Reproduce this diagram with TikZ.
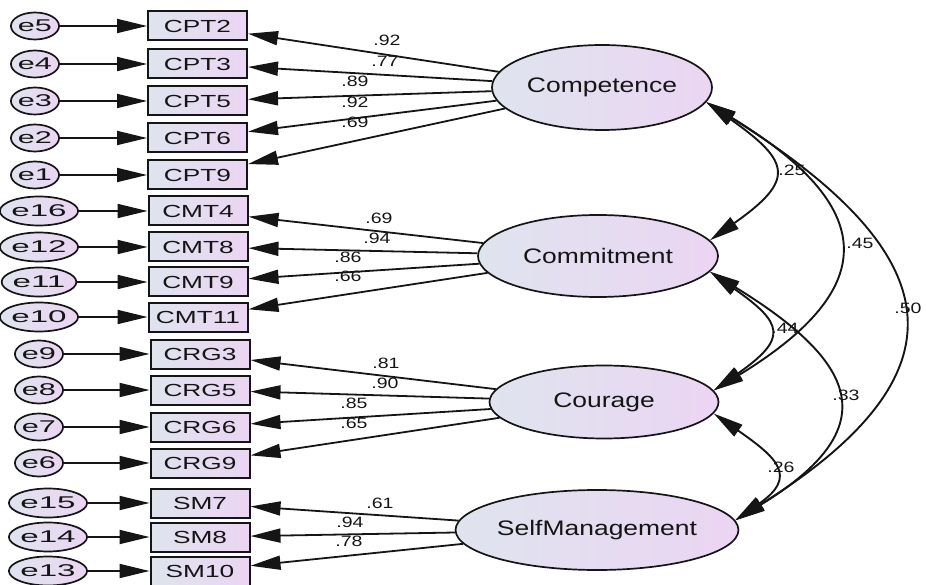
\documentclass[tikz,border=0pt]{standalone}
\usepackage{fontspec}
\usepackage{graphicx}
\setmainfont{Liberation Sans}
\usetikzlibrary{shapes.geometric,arrows.meta}

\definecolor{fillL}{HTML}{DFE4EE}
\definecolor{fillR}{HTML}{EBD5F3}
\definecolor{ink}{HTML}{151515}

% horizontally widened text
\newcommand{\wide}[2]{\scalebox{#1}[1]{#2}}

\tikzset{
  base/.style={draw=ink, text=ink, left color=fillL, right color=fillR, inner sep=0pt},
  latent/.style={base, ellipse, line width=1.7pt, font=\fontsize{21}{24}\selectfont},
  item/.style={base, rectangle, line width=2pt, minimum width=99pt, minimum height=29pt,
               font=\fontsize{17.5}{20}\selectfont},
  resid/.style={base, ellipse, line width=1.7pt, minimum width=45pt, minimum height=27pt,
                font=\fontsize{17}{19}\selectfont},
  coef/.style={text=ink, inner sep=0pt, font=\fontsize{15}{17}\selectfont},
  head/.tip={Triangle[length=30pt,width=14pt]},
  errpath/.style={draw=ink, line width=1.8pt, -head},
  loading/.style={draw=ink, line width=1.8pt, -head},
  covar/.style={draw=ink, line width=1.9pt, head-head},
}

\begin{document}
\begin{tikzpicture}[x=1pt, y=-1pt]
\useasboundingbox (0,0) rectangle (926,585);

% latent factors
\node[latent, minimum width=220pt, minimum height=85pt] (comp) at (602,87.5) {\wide{1.26}{Competence}};
\node[latent, minimum width=240pt, minimum height=82pt] (comm) at (598,256) {\wide{1.26}{Commitment}};
\node[latent, minimum width=229pt, minimum height=73pt] (cour) at (604,402) {\wide{1.26}{Courage}};
\node[latent, minimum width=233pt, minimum height=80pt] (self) at (597,530) {\wide{1.26}{SelfManagement}};

% observed items
\node[item] (cpt2) at (197.5,26) {\wide{1.5}{CPT2}};
\node[item] (cpt3) at (197.5,64) {\wide{1.5}{CPT3}};
\node[item] (cpt5) at (197.5,101) {\wide{1.5}{CPT5}};
\node[item] (cpt6) at (197.5,138) {\wide{1.5}{CPT6}};
\node[item] (cpt9) at (197.5,175) {\wide{1.5}{CPT9}};

\node[item] (cmt4) at (198,211) {\wide{1.5}{CMT4}};
\node[item] (cmt8) at (198,247) {\wide{1.5}{CMT8}};
\node[item] (cmt9) at (198,282) {\wide{1.5}{CMT9}};
\node[item] (cmt11) at (198,317) {\wide{1.5}{CMT11}};

\node[item] (crg3) at (200,354) {\wide{1.5}{CRG3}};
\node[item] (crg5) at (200,390) {\wide{1.5}{CRG5}};
\node[item] (crg6) at (200,427) {\wide{1.5}{CRG6}};
\node[item] (crg9) at (200,463) {\wide{1.5}{CRG9}};

\node[item] (sm7) at (200,503) {\wide{1.5}{SM7}};
\node[item] (sm8) at (200,537) {\wide{1.5}{SM8}};
\node[item] (sm10) at (200,571) {\wide{1.5}{SM10}};

% residuals
\node[resid] (e5) at (35,26) {\wide{1.8}{e5}};
\node[resid] (e4) at (35,64) {\wide{1.8}{e4}};
\node[resid] (e3) at (35,101) {\wide{1.8}{e3}};
\node[resid] (e2) at (35,138) {\wide{1.8}{e2}};
\node[resid] (e1) at (35,175) {\wide{1.8}{e1}};

\node[resid, minimum height=29pt] (e16) at (39,211) {\wide{1.95}{e16}};
\node[resid, minimum height=29pt] (e12) at (39,247) {\wide{1.95}{e12}};
\node[resid, minimum height=29pt] (e11) at (39,282) {\wide{1.95}{e11}};
\node[resid, minimum height=29pt] (e10) at (39,317) {\wide{1.95}{e10}};

\node[resid] (e9) at (39,354) {\wide{1.8}{e9}};
\node[resid] (e8) at (39,390) {\wide{1.8}{e8}};
\node[resid] (e7) at (39,427) {\wide{1.8}{e7}};
\node[resid] (e6) at (39,463) {\wide{1.8}{e6}};

\node[resid, minimum height=29pt] (e15) at (48,503) {\wide{1.95}{e15}};
\node[resid, minimum height=29pt] (e14) at (48,537) {\wide{1.95}{e14}};
\node[resid, minimum height=29pt] (e13) at (48,571) {\wide{1.95}{e13}};

% residual paths
\foreach \e/\v in {e5/cpt2,e4/cpt3,e3/cpt5,e2/cpt6,e1/cpt9,
                   e16/cmt4,e12/cmt8,e11/cmt9,e10/cmt11,
                   e9/crg3,e8/crg5,e7/crg6,e6/crg9,
                   e15/sm7,e14/sm8,e13/sm10}
  \draw[errpath] (\e) -- (\v);

% factor loadings
\foreach \v in {cpt2,cpt3,cpt5,cpt6,cpt9} \draw[loading] (comp) -- (\v);
\foreach \v in {cmt4,cmt8,cmt9,cmt11} \draw[loading] (comm) -- (\v);
\foreach \v in {crg3,crg5,crg6,crg9} \draw[loading] (cour) -- (\v);
\foreach \v in {sm7,sm8,sm10} \draw[loading] (self) -- (\v);

% loading estimates
\node[coef] (l1) at (387,40) {\wide{1.3}{.92}};
\node[coef] (l2) at (385,61) {\wide{1.3}{.77}};
\node[coef] (l3) at (355,81.5) {\wide{1.3}{.89}};
\node[coef] (l4) at (355,102.5) {\wide{1.3}{.92}};
\node[coef] (l5) at (355,122) {\wide{1.3}{.69}};

\node[coef] (l6) at (379,218) {\wide{1.3}{.69}};
\node[coef] (l7) at (377,238) {\wide{1.3}{.94}};
\node[coef] (l8) at (348,257) {\wide{1.3}{.86}};
\node[coef] (l9) at (348,276) {\wide{1.3}{.66}};

\node[coef] (l10) at (386,363) {\wide{1.3}{.81}};
\node[coef] (l11) at (385,383) {\wide{1.3}{.90}};
\node[coef] (l12) at (354,403) {\wide{1.3}{.85}};
\node[coef] (l13) at (354,423) {\wide{1.3}{.65}};

\node[coef] (l14) at (380,503) {\wide{1.3}{.61}};
\node[coef] (l15) at (350,522) {\wide{1.3}{.94}};
\node[coef] (l16) at (349,541) {\wide{1.3}{.78}};

% factor covariances
\draw[covar] (comp.-8) .. controls +(85,60) and +(85,-60) .. (comm.8);
\draw[covar] (comp.-8) .. controls +(170,104) and +(170,-104) .. (cour.6);
\draw[covar] (comp.-8) .. controls +(240,150) and +(240,-150) .. (self.4);
\draw[covar] (comm.-8) .. controls +(74,52) and +(74,-52) .. (cour.6);
\draw[covar] (comm.-8) .. controls +(150,92) and +(150,-92) .. (self.4);
\draw[covar] (cour.-6) .. controls +(63,44) and +(63,-44) .. (self.4);

\node[coef] (c1) at (792,170) {\wide{1.3}{.25}};
\node[coef] (c2) at (860,243) {\wide{1.3}{.45}};
\node[coef] (c3) at (908,308) {\wide{1.3}{.50}};
\node[coef] (c4) at (785,328) {\wide{1.3}{.44}};
\node[coef] (c5) at (846,395) {\wide{1.3}{.33}};
\node[coef] (c6) at (781,467) {\wide{1.3}{.26}};
\end{tikzpicture}
\end{document}
